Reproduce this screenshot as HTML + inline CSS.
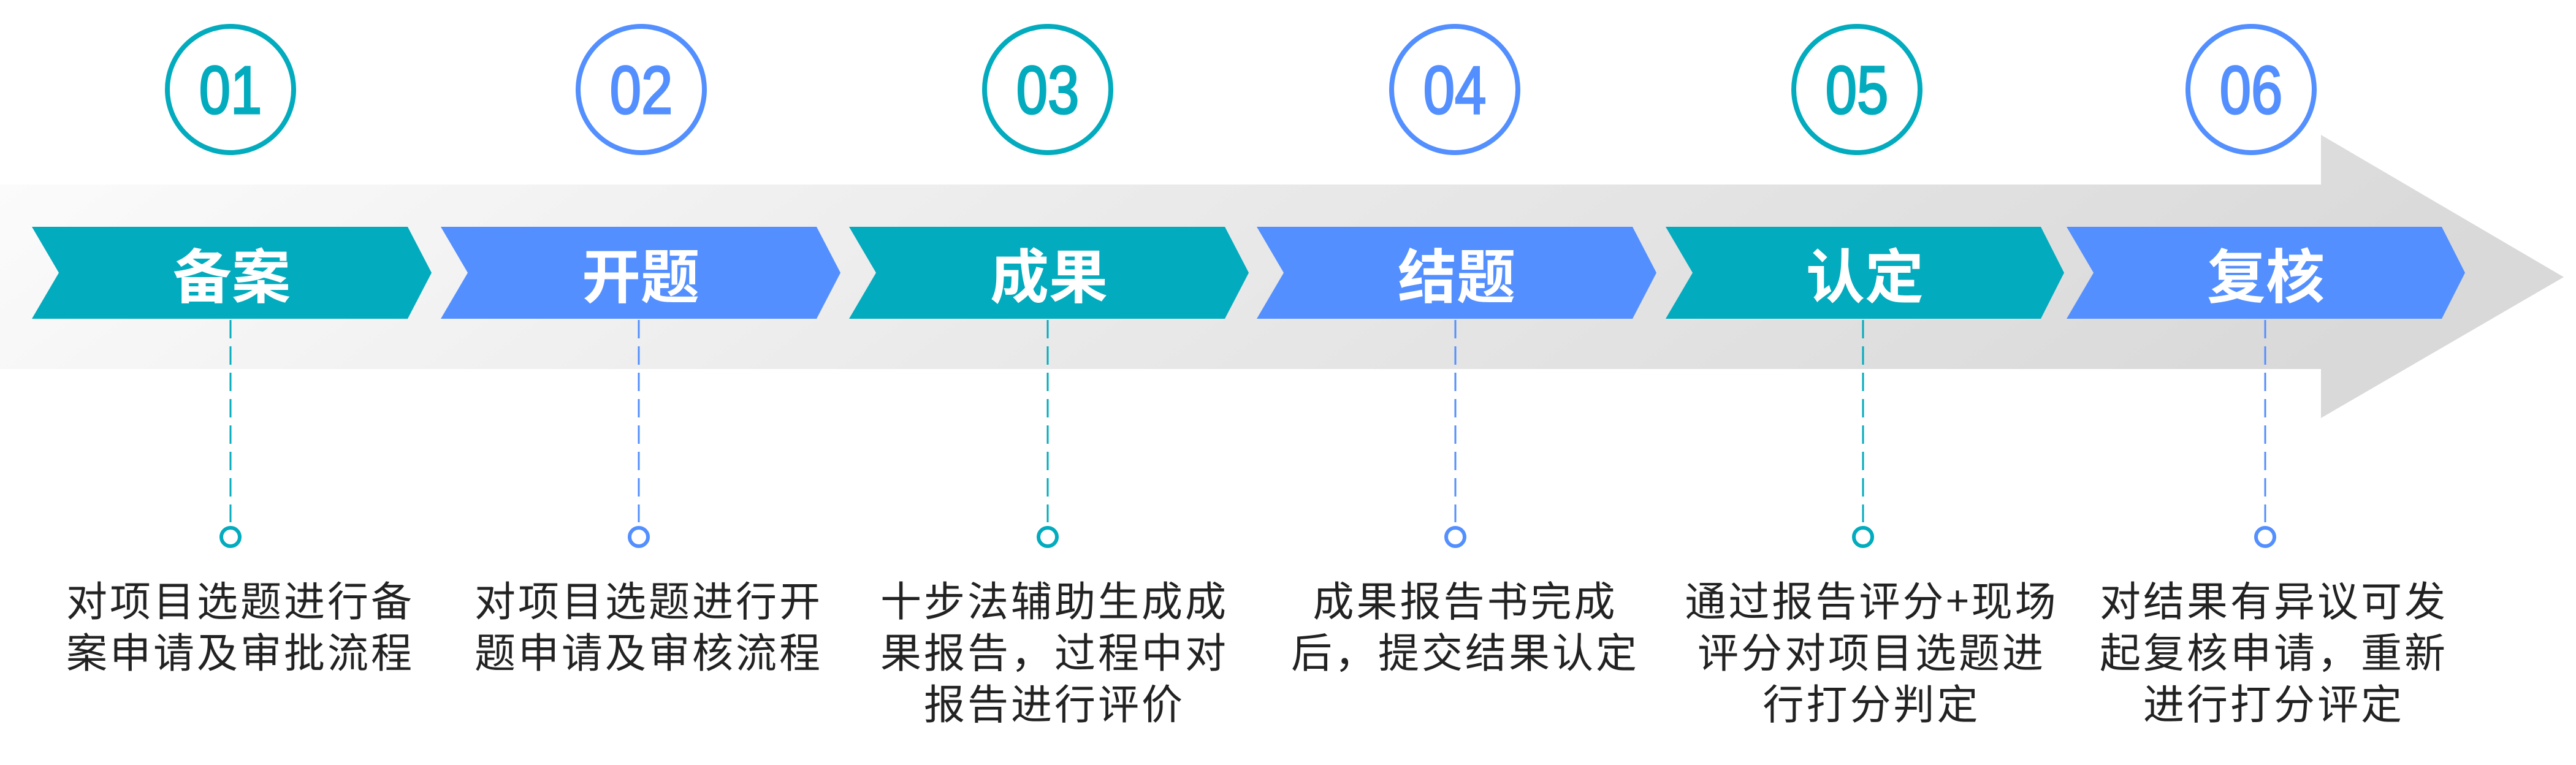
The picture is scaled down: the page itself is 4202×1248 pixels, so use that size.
<!DOCTYPE html>
<html><head><meta charset="utf-8"><style>
body{margin:0;width:4202px;height:1248px;background:#fff;position:relative;overflow:hidden;font-family:"Liberation Sans","Noto Sans CJK SC",sans-serif}
svg{position:absolute;left:0;top:0}
.num{position:absolute;top:148px;width:240px;margin-left:-120px;text-align:center;font-size:110px;line-height:0;transform:scaleX(0.84);-webkit-text-stroke:3px currentColor}
.lab{position:absolute;top:445px;width:400px;margin-left:-200px;text-align:center;color:#fff;font-weight:bold;font-size:96px;line-height:0;font-family:"Noto Sans CJK SC",sans-serif}
.desc{position:absolute;top:935px;width:700px;margin-left:-350px;text-align:center;color:#222;font-size:67px;line-height:84px;letter-spacing:4px;font-family:"Noto Sans CJK SC",sans-serif}
.t{color:#02abbd}.b{color:#538ffe}
</style></head><body>
<svg width="4202" height="1248" viewBox="0 0 4202 1248">
<defs><linearGradient id="g" x1="0" y1="0" x2="1" y2="0.15">
<stop offset="0" stop-color="#fcfcfc"/><stop offset="0.45" stop-color="#ebebeb"/><stop offset="1" stop-color="#d9d9d9"/></linearGradient></defs>
<polygon points="0,301 3786,301 3786,220 4182,452 3786,682 3786,602 0,602" fill="url(#g)"/>
<g>
<polygon points="52,370 665,370 704,445 665,520 52,520 96,445" fill="#02abbd"/>
<polygon points="719,370 1332,370 1371,445 1332,520 719,520 763,445" fill="#538ffe"/>
<polygon points="1385,370 1998,370 2037,445 1998,520 1385,520 1429,445" fill="#02abbd"/>
<polygon points="2050,370 2663,370 2702,445 2663,520 2050,520 2094,445" fill="#538ffe"/>
<polygon points="2717,370 3329,370 3367,445 3329,520 2717,520 2761,445" fill="#02abbd"/>
<polygon points="3371,370 3983,370 4021,445 3983,520 3371,520 3415,445" fill="#538ffe"/>
</g>
<g fill="#fff" stroke-width="8">
<circle cx="376" cy="146" r="103" stroke="#02abbd"/>
<circle cx="1046" cy="146" r="103" stroke="#538ffe"/>
<circle cx="1709" cy="146" r="103" stroke="#02abbd"/>
<circle cx="2373" cy="146" r="103" stroke="#538ffe"/>
<circle cx="3029" cy="146" r="103" stroke="#02abbd"/>
<circle cx="3672" cy="146" r="103" stroke="#538ffe"/>
</g>
<g stroke-width="3" stroke-dasharray="30 13">
<line x1="376" y1="522" x2="376" y2="852" stroke="#02abbd"/>
<line x1="1042" y1="522" x2="1042" y2="852" stroke="#538ffe"/>
<line x1="1709" y1="522" x2="1709" y2="852" stroke="#02abbd"/>
<line x1="2374" y1="522" x2="2374" y2="852" stroke="#538ffe"/>
<line x1="3039" y1="522" x2="3039" y2="852" stroke="#02abbd"/>
<line x1="3695" y1="522" x2="3695" y2="852" stroke="#538ffe"/>
</g>
<g fill="#fff" stroke-width="6">
<circle cx="376" cy="876" r="15" stroke="#02abbd"/>
<circle cx="1042" cy="876" r="15" stroke="#538ffe"/>
<circle cx="1709" cy="876" r="15" stroke="#02abbd"/>
<circle cx="2374" cy="876" r="15" stroke="#538ffe"/>
<circle cx="3039" cy="876" r="15" stroke="#02abbd"/>
<circle cx="3695" cy="876" r="15" stroke="#538ffe"/>
</g>
</svg>
<div class="num t" style="left:376px">01</div>
<div class="num b" style="left:1046px">02</div>
<div class="num t" style="left:1709px">03</div>
<div class="num b" style="left:2373px">04</div>
<div class="num t" style="left:3029px">05</div>
<div class="num b" style="left:3672px">06</div>
<div class="lab" style="left:378px">备案</div>
<div class="lab" style="left:1045px">开题</div>
<div class="lab" style="left:1711px">成果</div>
<div class="lab" style="left:2376px">结题</div>
<div class="lab" style="left:3042px">认定</div>
<div class="lab" style="left:3696px">复核</div>
<div class="desc" style="left:392px">对项目选题进行备<br>案申请及审批流程</div>
<div class="desc" style="left:1058px">对项目选题进行开<br>题申请及审核流程</div>
<div class="desc" style="left:1720px">十步法辅助生成成<br>果报告，过程中对<br>报告进行评价</div>
<div class="desc" style="left:2390px">成果报告书完成<br>后，提交结果认定</div>
<div class="desc" style="left:3053px">通过报告评分+现场<br>评分对项目选题进<br>行打分判定</div>
<div class="desc" style="left:3709px">对结果有异议可发<br>起复核申请，重新<br>进行打分评定</div>
</body></html>
